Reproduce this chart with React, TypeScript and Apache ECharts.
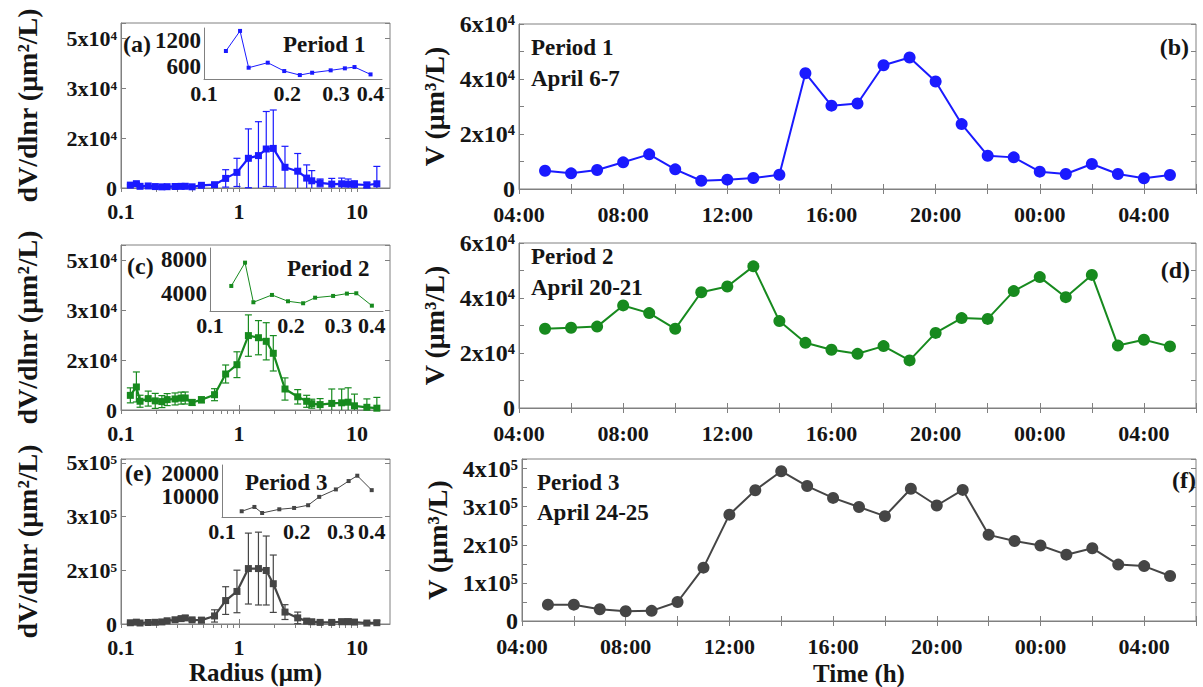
import React, { useEffect, useRef } from 'react';
import * as echarts from 'echarts';

// ---------------- data ----------------
const radius = [0.12, 0.135, 0.145, 0.17, 0.195, 0.222, 0.246, 0.287, 0.323, 0.35, 0.4, 0.48, 0.62, 0.77, 0.96, 1.2, 1.46, 1.7, 1.95, 2.45, 3.14, 3.74, 4.13, 4.86, 6.1, 7.4, 8.4, 9.5, 12.1, 14.7];
const insetRadius = [0.12, 0.135, 0.145, 0.17, 0.195, 0.222, 0.246, 0.287, 0.323, 0.35, 0.4];

const dist1 = [960, 1440, 560, 680, 480, 384, 440, 497, 545, 576, 400, 900, 1100, 3200, 5200, 9900, 10800, 13000, 13200, 6900, 5600, 3300, 2400, 1700, 1300, 1400, 1300, 1200, 1000, 1400];
const err1 = [300, 400, 300, 200, 200, 200, 200, 200, 200, 200, 200, 300, 600, 2900, 4700, 9800, 11300, 12500, 12800, 7000, 5900, 4400, 3400, 1300, 1900, 1900, 1700, 1200, 900, 5800];
const inset1 = [960, 1440, 560, 680, 480, 384, 440, 497, 545, 576, 400];

const dist2 = [4880, 7680, 2920, 3800, 3040, 2800, 3470, 3680, 3960, 4000, 2510, 3400, 5100, 12000, 15100, 24800, 24100, 22900, 18900, 7000, 4400, 2900, 2100, 1800, 2200, 2400, 2600, 1400, 900, 600];
const err2 = [2500, 5000, 2000, 2500, 2500, 2000, 2000, 2000, 2000, 2000, 1000, 1000, 2000, 3000, 4300, 6900, 5700, 6200, 5900, 3700, 2400, 2000, 1500, 2000, 4800, 4600, 4800, 3900, 2800, 3600];
const inset2 = [4880, 7680, 2920, 3800, 3040, 2800, 3470, 3680, 3960, 4000, 2510];

const dist3 = [3870, 5710, 3140, 4710, 5280, 6440, 10000, 13170, 16730, 19000, 12860, 12000, 25000, 72700, 101000, 172000, 172000, 166000, 125000, 37000, 19000, 9000, 7000, 5000, 5000, 7000, 7000, 6000, 3000, 4000];
const err3 = [2000, 3000, 2000, 2000, 2000, 3000, 4000, 5000, 6000, 7000, 5000, 8000, 19000, 43000, 66000, 110000, 113000, 107000, 89000, 23000, 18000, 6000, 5000, 4000, 6000, 8000, 9000, 7000, 4000, 6000];
const inset3 = [3870, 5710, 3140, 4710, 5280, 6440, 10000, 13170, 16730, 19000, 12860];

const hours = [5, 6, 7, 8, 9, 10, 11, 12, 13, 14, 15, 16, 17, 18, 19, 20, 21, 22, 23, 24, 25, 26, 27, 28, 29];
const vol1 = [6650, 5700, 6900, 9700, 12600, 7150, 3000, 3400, 4000, 5200, 42100, 30300, 31100, 45000, 47800, 39100, 23600, 12100, 11500, 6300, 5450, 9100, 5450, 3900, 5100];
const vol2 = [28800, 29200, 29600, 37300, 34500, 28800, 42100, 44200, 51500, 31600, 23700, 21200, 19700, 22500, 17300, 27300, 32700, 32400, 42500, 47600, 40300, 48400, 22700, 24800, 22400];
const vol3 = [42900, 42900, 30900, 25700, 26600, 49800, 140000, 279000, 343000, 393000, 354000, 323000, 299000, 275000, 347000, 303000, 344000, 226000, 210000, 198000, 174000, 191000, 148000, 144000, 118000];

const radiusTicks = [0.1, 1, 10];
const radiusTickLabels = ['0.1', '1', '10'];
const radiusMinorTicks = [0.2, 0.3, 0.4, 0.5, 0.6, 0.7, 0.8, 0.9, 2, 3, 4, 5, 6, 7, 8, 9];
const insetTicks = [0.1, 0.2, 0.3, 0.4];
const insetTickLabels = ['0.1', '0.2', '0.3', '0.4'];
const inset1Ticks = [600, 1200];
const inset2Ticks = [4000, 8000];
const inset3Ticks = [10000, 20000];
const distTickLabels12 = ['0', '2x10⁴', '3x10⁴', '5x10⁴'];
const distTickLabels3 = ['0', '2x10⁵', '3x10⁵', '5x10⁵'];
const volTickLabels12 = ['0', '2x10⁴', '4x10⁴', '6x10⁴'];
const volTickLabels3 = ['0', '1x10⁵', '2x10⁵', '3x10⁵', '4x10⁵'];
const timeTickLabels = ['04:00', '08:00', '12:00', '16:00', '20:00', '00:00', '04:00'];

// ---------------- styles ----------------
const FONT = "'Liberation Serif', 'Times New Roman', serif";
const FRAME = '#808080';
const TXT = '#151515';
const BLUE = '#1a1aff';
const GREEN = '#178a1e';
const GRAY = '#454545';

const tstyle = (size: number) => ({ fontFamily: FONT, fontWeight: 'bold' as const, fontSize: size, color: TXT });

function buildOption() {
  const grid: any[] = [];
  const xAxis: any[] = [];
  const yAxis: any[] = [];
  const series: any[] = [];
  const graphic: any[] = [];

  const addText = (text: string, x: number, y: number, size: number, align = 'left') => {
    graphic.push({
      type: 'text', x, y, z: 100,
      style: { text, fontFamily: FONT, fontWeight: 'bold', fontSize: size, fill: TXT, align, verticalAlign: 'middle' },
    });
  };

  const leftPanels = [
    { top: 23, color: BLUE, dist: dist1, err: err1, yMax: 55000, yStep: 50000 / 3, yLabels: distTickLabels12,
      inset: { left: 204, top: 28, right: 382, bottom: 79, min: 290, max: 1510, ticks: inset1Ticks, data: inset1 },
      tag: '(a)', tagPos: [123, 44], period: 'Period 1', periodPos: [283, 44], xName: '' },
    { top: 245, color: GREEN, dist: dist2, err: err2, yMax: 55000, yStep: 50000 / 3, yLabels: distTickLabels12,
      inset: { left: 210, top: 248, right: 383, bottom: 311, min: 1870, max: 9440, ticks: inset2Ticks, data: inset2 },
      tag: '(c)', tagPos: [127, 266], period: 'Period 2', periodPos: [287, 268], xName: '' },
    { top: 459, color: GRAY, dist: dist3, err: err3, yMax: 512000, yStep: 500000 / 3, yLabels: distTickLabels3,
      inset: { left: 222, top: 465, right: 382, bottom: 517, min: 1430, max: 23560, ticks: inset3Ticks, data: inset3 },
      tag: '(e)', tagPos: [125, 473], period: 'Period 3', periodPos: [245, 482], xName: 'Radius (μm)' },
  ];

  leftPanels.forEach((p) => {
    const gi = grid.length;
    grid.push({ left: 121, top: p.top, width: 269, height: 165, show: true, borderColor: FRAME, borderWidth: 1, backgroundColor: 'transparent' });
    const xi = xAxis.length;
    xAxis.push({
      type: 'log', logBase: 10, gridIndex: gi, min: 0.1, max: 19, position: 'bottom',
      axisLine: { show: true, lineStyle: { color: FRAME } },
      axisTick: { show: true, inside: true, length: 5, customValues: radiusTicks, lineStyle: { color: FRAME } },
      axisLabel: {
        ...tstyle(22), margin: 12, customValues: radiusTicks,
        formatter: (v: number) => { const k = radiusTicks.findIndex((t) => Math.abs(t - v) < 1e-6 * t); return k >= 0 ? radiusTickLabels[k] : ''; },
      },
      splitLine: { show: false },
      name: p.xName, nameLocation: 'middle', nameGap: 36, nameMoveOverlap: false, nameTextStyle: tstyle(25),
    });
    xAxis.push({
      type: 'log', logBase: 10, gridIndex: gi, min: 0.1, max: 19, position: 'top',
      axisLine: { show: false },
      axisTick: { show: true, inside: true, length: 4, customValues: [...radiusTicks, ...radiusMinorTicks], lineStyle: { color: FRAME } },
      axisLabel: { show: false }, splitLine: { show: false },
    });
    const yi = yAxis.length;
    yAxis.push({
      type: 'value', gridIndex: gi, min: 0, max: p.yMax, interval: p.yStep, position: 'left',
      axisLine: { show: true, lineStyle: { color: FRAME } },
      axisTick: { show: true, inside: true, length: 5, lineStyle: { color: FRAME } },
      axisLabel: {
        ...tstyle(22), margin: 4,
        formatter: (v: number) => { const k = Math.round(v / p.yStep); return Math.abs(k * p.yStep - v) < 1 ? (p.yLabels[k] ?? '') : ''; },
      },
      splitLine: { show: false },
      name: 'dV/dlnr (μm²/L)', nameLocation: 'middle', nameGap: 80, nameTextStyle: tstyle(28),
    });
    yAxis.push({
      type: 'value', gridIndex: gi, min: 0, max: p.yMax, interval: p.yStep, position: 'right',
      axisLine: { show: false }, axisTick: { show: true, inside: true, length: 5, lineStyle: { color: FRAME } },
      axisLabel: { show: false }, splitLine: { show: false },
    });

    const mainData = radius.map((r, i) => [r, p.dist[i]]);
    const errData = radius.map((r, i) => [r, p.dist[i] - p.err[i], p.dist[i] + p.err[i]]);
    const color = p.color;
    series.push({
      type: 'custom', xAxisIndex: xi, yAxisIndex: yi, data: errData, z: 3,
      renderItem: (params: any, api: any) => {
        const x = api.value(0);
        const lo = api.value(1);
        const hi = api.value(2);
        const top = api.coord([x, hi]);
        const bot = api.coord([x, Math.max(0, lo)]);
        const w = 3.5;
        const st = { stroke: color, lineWidth: 1.2 };
        const children: any[] = [
          { type: 'line', shape: { x1: top[0], y1: top[1], x2: bot[0], y2: bot[1] }, style: st },
          { type: 'line', shape: { x1: top[0] - w, y1: top[1], x2: top[0] + w, y2: top[1] }, style: st },
        ];
        if (lo > 0) children.push({ type: 'line', shape: { x1: bot[0] - w, y1: bot[1], x2: bot[0] + w, y2: bot[1] }, style: st });
        return { type: 'group', children };
      },
    });
    series.push({
      type: 'line', xAxisIndex: xi, yAxisIndex: yi, data: mainData, symbol: 'rect', symbolSize: 7, z: 4,
      lineStyle: { color, width: 2.2 }, itemStyle: { color },
    });

    // inset
    const ins = p.inset;
    const ig = grid.length;
    grid.push({ left: ins.left, top: ins.top, width: ins.right - ins.left, height: ins.bottom - ins.top });
    const ixi = xAxis.length;
    xAxis.push({
      type: 'log', logBase: 10, gridIndex: ig, min: 0.1, max: 0.44,
      axisLine: { show: true, lineStyle: { color: FRAME } },
      axisTick: { show: false },
      axisLabel: {
        ...tstyle(22), margin: 3, customValues: insetTicks,
        formatter: (v: number) => { const k = insetTicks.findIndex((t) => Math.abs(t - v) < 1e-6); return k >= 0 ? insetTickLabels[k] : ''; },
      },
      splitLine: { show: false },
    });
    const iyi = yAxis.length;
    yAxis.push({
      type: 'value', gridIndex: ig, min: ins.min, max: ins.max,
      axisLine: { show: true, lineStyle: { color: FRAME } },
      axisTick: { show: false },
      axisLabel: { ...tstyle(23), margin: 3, customValues: ins.ticks, formatter: (v: number) => String(v) },
      splitLine: { show: false },
    });
    series.push({
      type: 'line', xAxisIndex: ixi, yAxisIndex: iyi, data: insetRadius.map((r, i) => [r, ins.data[i]]),
      symbol: 'rect', symbolSize: 4, z: 4, lineStyle: { color, width: 1 }, itemStyle: { color },
    });

    addText(p.tag, p.tagPos[0], p.tagPos[1], 24);
    addText(p.period, p.periodPos[0], p.periodPos[1], 23);
  });

  const rightPanels = [
    { top: 24, left: 519, color: BLUE, vol: vol1, yMax: 60000, yStep: 10000, labStep: 20000, yLabels: volTickLabels12,
      tag: '(b)', tagPos: [1189, 47], period: 'Period 1', periodPos: [531, 47], date: 'April 6-7', datePos: [531, 78], xName: '' },
    { top: 243, left: 519, color: GREEN, vol: vol2, yMax: 60000, yStep: 10000, labStep: 20000, yLabels: volTickLabels12,
      tag: '(d)', tagPos: [1190, 270], period: 'Period 2', periodPos: [531, 256], date: 'April 20-21', datePos: [531, 287], xName: '' },
    { top: 459, left: 522, color: GRAY, vol: vol3, yMax: 425000, yStep: 50000, labStep: 100000, yLabels: volTickLabels3,
      tag: '(f)', tagPos: [1196, 480], period: 'Period 3', periodPos: [537, 482], date: 'April 24-25', datePos: [537, 512], xName: 'Time (h)' },
  ];

  rightPanels.forEach((p) => {
    const gi = grid.length;
    grid.push({ left: p.left, top: p.top, width: 1196 - p.left, height: 165, show: true, borderColor: FRAME, borderWidth: 1, backgroundColor: 'transparent' });
    const xi = xAxis.length;
    const timeFmt = (v: number) => { const k = (v - 4) / 4; return Number.isInteger(k) ? (timeTickLabels[k] ?? '') : ''; };
    xAxis.push({
      type: 'value', gridIndex: gi, min: 4, max: 30, interval: 2, position: 'bottom',
      axisLine: { show: true, lineStyle: { color: FRAME } },
      axisTick: { show: true, inside: true, length: 5, lineStyle: { color: FRAME } },
      axisLabel: { ...tstyle(22), margin: 14, formatter: timeFmt },
      splitLine: { show: false },
      name: p.xName, nameLocation: 'middle', nameGap: 40, nameTextStyle: tstyle(25),
    });
    xAxis.push({
      type: 'value', gridIndex: gi, min: 4, max: 30, interval: 2, position: 'top',
      axisLine: { show: false }, axisTick: { show: true, inside: true, length: 5, lineStyle: { color: FRAME } },
      axisLabel: { show: false }, splitLine: { show: false },
    });
    const yi = yAxis.length;
    yAxis.push({
      type: 'value', gridIndex: gi, min: 0, max: p.yMax, interval: p.yStep, position: 'left',
      axisLine: { show: true, lineStyle: { color: FRAME } },
      axisTick: { show: true, inside: true, length: 5, lineStyle: { color: FRAME } },
      axisLabel: {
        ...tstyle(24), margin: 4,
        formatter: (v: number) => { const k = v / p.labStep; return Number.isInteger(k) ? (p.yLabels[k] ?? '') : ''; },
      },
      splitLine: { show: false },
      name: 'V (μm³/L)', nameLocation: 'middle', nameGap: 66, nameTextStyle: tstyle(28),
    });
    yAxis.push({
      type: 'value', gridIndex: gi, min: 0, max: p.yMax, interval: p.yStep, position: 'right',
      axisLine: { show: false }, axisTick: { show: true, inside: true, length: 5, lineStyle: { color: FRAME } },
      axisLabel: { show: false }, splitLine: { show: false },
    });
    series.push({
      type: 'line', xAxisIndex: xi, yAxisIndex: yi, data: hours.map((h, i) => [h, p.vol[i]]),
      symbol: 'circle', symbolSize: 12, z: 4, lineStyle: { color: p.color, width: 2 }, itemStyle: { color: p.color },
    });
    addText(p.period, p.periodPos[0], p.periodPos[1], 23);
    addText(p.date, p.datePos[0], p.datePos[1], 23);
    addText(p.tag, p.tagPos[0], p.tagPos[1], 24, 'right');
  });

  return { animation: false, backgroundColor: '#ffffff', grid, xAxis, yAxis, series, graphic };
}

export default function App() {
  const ref = useRef<HTMLDivElement>(null);
  useEffect(() => {
    if (!ref.current) return;
    const chart = echarts.init(ref.current, undefined, { renderer: 'svg' });
    chart.setOption(buildOption() as any);
    return () => chart.dispose();
  }, []);
  return <div ref={ref} style={{ position: 'absolute', left: 0, top: 0, width: 1203, height: 687, background: '#fff' }} />;
}
